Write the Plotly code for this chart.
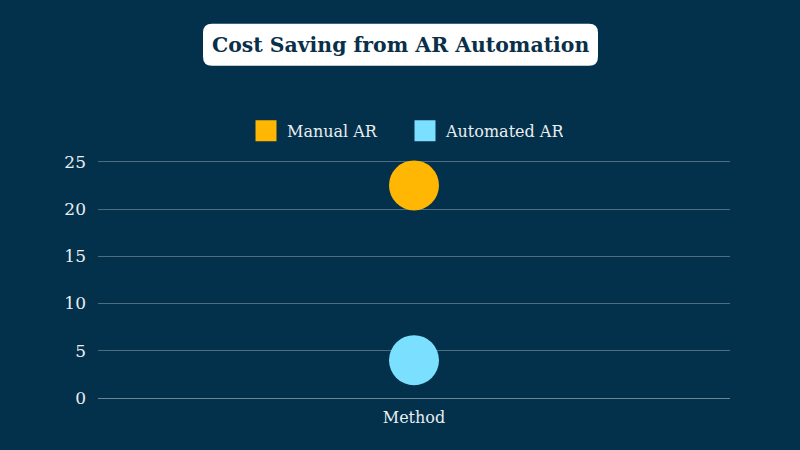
import plotly.graph_objects as go

categories = ["Method"]
series_names = ["Manual AR", "Automated AR"]
manual_values = [22.5]
automated_values = [4.0]
colors = ["#FFB703", "#7BDFFF"]
title_text = "Cost Saving from AR Automation"

BG = "#03304A"
W, H = 800, 450
YMAX = 25.4
L, R, B = 98, 70, 52
ph = 236 * YMAX / 25
T = H - B - ph
pw = W - L - R

fig = go.Figure()
for name, vals, col in zip(series_names, [manual_values, automated_values], colors):
    fig.add_trace(go.Scatter(x=categories, y=vals, mode="markers", name=name,
                             marker=dict(size=50, color=col, line=dict(width=0)),
                             showlegend=False, hoverinfo="x+y+name"))
    fig.add_trace(go.Scatter(x=[None], y=[None], mode="markers", name=name,
                             marker=dict(size=16, symbol="square", color=col,
                                         line=dict(width=5, color=col)),
                             showlegend=True))

def px2paper(x, y):
    return (x - L) / pw, (H - B - y) / ph

# rounded title box
x0, y0, x1, y1, r = 203, 24, 598, 66, 9
def P(x, y):
    a, b = px2paper(x, y)
    return f"{a:.5f},{b:.5f}"
path = (f"M {P(x0+r,y0)} L {P(x1-r,y0)} Q {P(x1,y0)} {P(x1,y0+r)} "
        f"L {P(x1,y1-r)} Q {P(x1,y1)} {P(x1-r,y1)} L {P(x0+r,y1)} "
        f"Q {P(x0,y1)} {P(x0,y1-r)} L {P(x0,y0+r)} Q {P(x0,y0)} {P(x0+r,y0)} Z")
fig.add_shape(type="path", path=path, xref="paper", yref="paper",
              fillcolor="white", line=dict(width=0), layer="above")
tx, ty = px2paper(400.5, 45)
fig.add_annotation(text=f"<b>{title_text}</b>", x=tx, y=ty, xref="paper", yref="paper",
                   showarrow=False, xanchor="center", yanchor="middle",
                   font=dict(family="DejaVu Serif", size=20.4, color="#0A3049"))

fig.update_layout(
    width=W, height=H,
    margin=dict(l=L, r=R, t=T, b=B),
    paper_bgcolor=BG, plot_bgcolor=BG,
    font=dict(family="DejaVu Serif", color="#E8EEF2", size=16),
    legend=dict(orientation="h", x=px2paper(404, 0)[0], xanchor="center",
                y=px2paper(0, 131)[1], yanchor="middle",
                font=dict(size=16, color="#E8EEF2"),
                bgcolor="rgba(0,0,0,0)", itemsizing="trace", itemwidth=32,
                entrywidth=112),
    xaxis=dict(type="category", showgrid=False, showline=True, linecolor="#6A8597",
               linewidth=1, ticks="", tickfont=dict(size=16, color="#E8EEF2"),
               zeroline=False, ticklabelstandoff=5),
    yaxis=dict(range=[0, YMAX], tickvals=[0, 5, 10, 15, 20, 25], showgrid=True,
               gridcolor="#4C6D82", gridwidth=1, zeroline=False, showline=False,
               ticks="", ticklen=0, ticklabelstandoff=11,
               tickfont=dict(size=17, color="#E8EEF2")),
)

fig.write_html("out.html", config={"displayModeBar": False},
               post_script="document.body.style.margin='0';document.body.style.background='%s';" % BG)
